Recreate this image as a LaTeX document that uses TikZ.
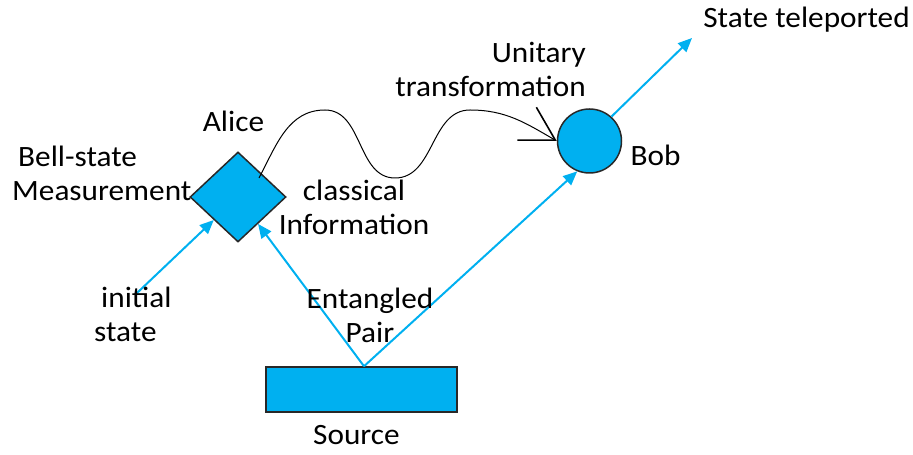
\documentclass[tikz,border=0pt]{standalone}
\usepackage{fontspec}
\setmainfont{Carlito}[FakeStretch=1.06]
\usetikzlibrary{arrows.meta,shapes.geometric}
\definecolor{qblue}{RGB}{0,176,240}
\definecolor{qedge}{RGB}{40,40,40}

\begin{document}
\begin{tikzpicture}[x=1pt,y=1pt,
  lbl/.style={font=\fontsize{29.5}{34.5}\selectfont, inner sep=0pt, anchor=base},
  beam/.style={draw=qblue, line width=2pt, -{Triangle[length=14pt,width=12pt]}},
  part/.style={fill=qblue, draw=qedge, line width=1.5pt, inner sep=0pt}]
\useasboundingbox (0,0) rectangle (913,455);

% parties and the source
\node[part, rectangle, minimum width=191pt, minimum height=45pt] (source) at (361.5,65.5) {};
\node[part, diamond, minimum width=96pt, minimum height=90pt] (alice) at (238,258) {};
\node[part, circle, minimum size=64pt] (bob) at (589.5,314) {};

% free ends and waypoints
\coordinate (init) at (137,162);
\coordinate (tele) at (692,417);
\coordinate (apex) at ([xshift=2.5pt]source.north);
\coordinate (wstart) at (259,277);
\coordinate (crest1) at (325,345);
\coordinate (trough) at (395,277);
\coordinate (crest2) at (470,345);

% quantum channels
\draw[beam] (init) -- (alice);
\draw[beam] (apex) -- (alice);
\draw[beam] (apex) -- (bob.248);
\draw[beam] (bob.48) -- (tele);

% classical channel
\draw[line width=1pt, -{Straight Barb[angle=60:38pt, line width=1.6pt]}]
  (wstart) to[out=62,in=180] (crest1) to[out=0,in=180] (trough)
  to[out=0,in=180] (crest2) to[out=0,in=150] (bob.west);

% labels (multi-line nodes sit on the baseline of their last line)
\node[lbl] (lteleported) at (806.5,427) {State teleported};
\node[lbl, align=right, anchor=base east] (lunitary) at (586,358) {Unitary\\transformation};
\node[lbl] (lalice) at (233.5,323) {Alice};
\node[lbl, align=left, anchor=base west] (lbell) at (12,254) {\hspace*{6pt}Bell-state\\Measurement};
\node[lbl, align=center] (lclassical) at (354,220) {classical\\Information};
\node[lbl, align=left, anchor=base west] (linitial) at (94,113) {\hspace*{7pt}initial\\state};
\node[lbl, align=center] (lpair) at (370,112) {Entangled\\Pair};
\node[lbl] (lbob) at (655.5,289) {Bob};
\node[lbl] (lsource) at (356.5,10) {Source};
\end{tikzpicture}
\end{document}
